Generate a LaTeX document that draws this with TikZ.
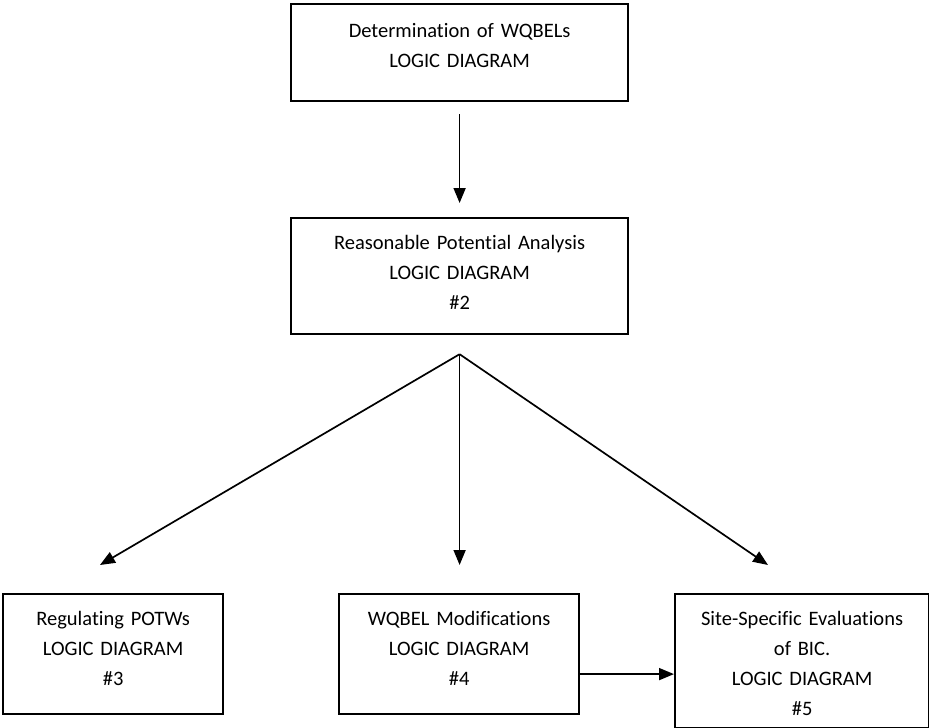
\documentclass[tikz,border=0pt]{standalone}
\usepackage{fontspec}
\setmainfont{Carlito}[Ligatures=NoCommon]
\usetikzlibrary{arrows.meta,calc}
\tikzset{
  logic diagram/.style={
    line width=1.7pt,
    >={Triangle[length=15pt,width=12pt]},
    every node/.style={font=\fontsize{20.5}{30}\selectfont, text=black}
  },
  logic box/.style 2 args={draw, line width=2.2pt, inner sep=0pt,
    text width=#1, align=center, text height=31pt, text depth=#2,
    anchor=north west},
  logic flow/.style={->, draw=black}
}

\begin{document}
\begin{tikzpicture}[logic diagram,x=1pt,y=-1pt]
    \useasboundingbox (0,0) rectangle (929,728);
    \node[logic box={337pt}{64pt}, text height=33pt] (wqbel) at (290,3)
      {Determination of WQBELs\\LOGIC DIAGRAM};
    \node[logic box={337pt}{85pt}] (rpa) at (290,217)
      {Reasonable Potential Analysis\\LOGIC DIAGRAM\\\#2};
    \node[logic box={220pt}{89pt}] (potw) at (2,593)
      {Regulating POTWs\\LOGIC DIAGRAM\\\#3};
    \node[logic box={240pt}{89pt}] (mods) at (338,593)
      {WQBEL Modifications\\LOGIC DIAGRAM\\\#4};
    \node[logic box={254pt}{103pt}] (bic) at (674,593)
      {Site-Specific Evaluations\\of BIC.\\LOGIC DIAGRAM\\\#5};
    \coordinate (split) at ([yshift=-19pt]rpa.south);
    \coordinate (toPotw) at (100,565);
    \coordinate (toBic) at (768,565);
    \draw[logic flow, shorten <=12pt, shorten >=14pt] (wqbel.south) -- (rpa.north);
    \draw[logic flow] (split) -- (toPotw);
    \draw[logic flow, shorten >=28pt] (split) -- (split |- mods.north);
    \draw[logic flow] (split) -- (toBic);
    \draw[logic flow] ([yshift=-20pt]mods.east) -- ([yshift=-20pt]mods.east -| bic.west);
\end{tikzpicture}
\end{document}
